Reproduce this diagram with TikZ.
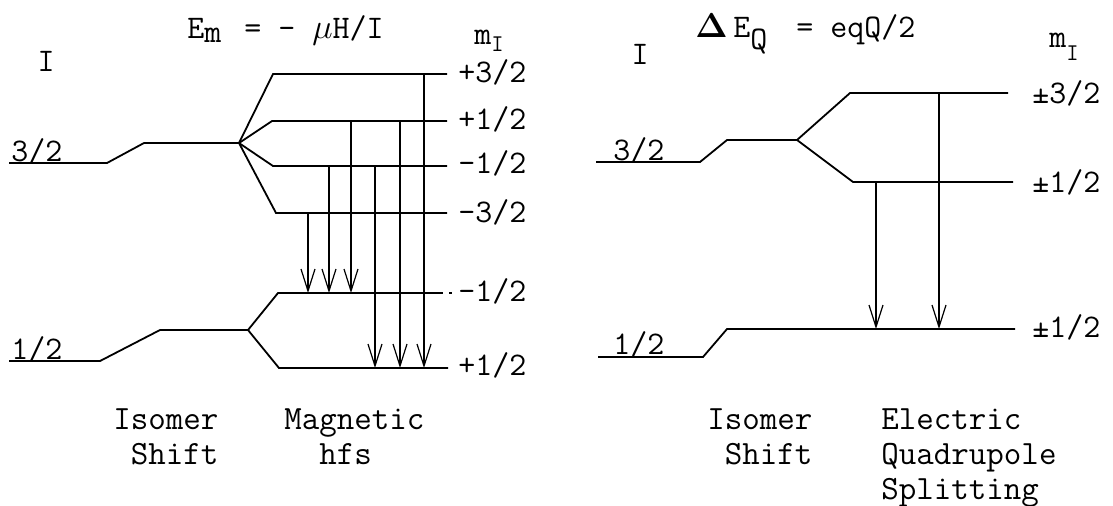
\documentclass[tikz,border=0pt]{standalone}
\usepackage[no-math]{fontspec}
\usetikzlibrary{arrows.meta}

\begin{document}
\begin{tikzpicture}[
  x=0.5pt, y=-0.5pt,
  level/.style={line width=0.9pt},
  trans/.style={line width=0.6pt, -{Straight Barb[length=11pt, width=7pt]}},
  lbl/.style={anchor=west, inner sep=0pt, font=\ttfamily\fontsize{16.5}{18}\selectfont},
  spin/.style={anchor=base west, inner sep=0pt, font=\ttfamily\fontsize{16.5}{18}\selectfont},
  head/.style={anchor=base west, inner sep=0pt, font=\ttfamily\fontsize{16.5}{18}\selectfont},
  caption/.style={anchor=north west, inner sep=0pt, align=left, font=\ttfamily\fontsize{17}{17.5}\selectfont}
]
\useasboundingbox (0,0) rectangle (1113,505);

% ---- magnetic hyperfine splitting ----
\node[head] (mtitle) at (187,38) {E\raisebox{-2pt}{m}\hspace{3pt} = - $\mu$H/I};
\node[lbl, anchor=center] (mspinI) at (46,61) {I};
\node[head] (mmI) at (474,44) {m\raisebox{-3.5pt}{\fontsize{12}{12}\selectfont I}};

\coordinate (mex) at (239,143);
\coordinate (mgr) at (248,330);
\draw[level] (9,163) -- (107,163) -- (144,143) -- (mex);
\draw[level] (9,361) -- (100,361) -- (160,330) -- (mgr);
\node[spin] (mup) at (11,161) {3/2};
\node[spin] (mlo) at (11,359) {1/2};

\coordinate (eP32) at (273,74);
\coordinate (eP12) at (272,121);
\coordinate (eM12) at (273,166);
\coordinate (eM32) at (276,213);
\coordinate (gM12) at (278,293);
\coordinate (gP12) at (279,368);
\foreach \lv in {eP32, eP12, eM12, eM32}
  \draw[level] (mex) -- (\lv) -- (\lv -| 447,0);
\draw[level] (mgr) -- (gM12) -- (gM12 -| 435,0);
\draw[level, dashed, dash pattern=on 4pt off 3pt] (gM12 -| 435,0) -- (gM12 -| 452,0);
\draw[level] (mgr) -- (gP12) -- (gP12 -| 448,0);

\node[lbl] (lP32) at (458,72) {+3/2};
\node[lbl] (lP12) at (458,119) {+1/2};
\node[lbl] (lM12) at (458,163) {-1/2};
\node[lbl] (lM32) at (458,212) {-3/2};
\node[lbl] (lgM12) at (458,291) {-1/2};
\node[lbl] (lgP12) at (458,365) {+1/2};

\foreach \x/\a/\b in {308/eM32/gM12, 329/eM12/gM12, 351/eP12/gM12,
                      375/eM12/gP12, 400/eP12/gP12, 424/eP32/gP12}
  \draw[trans] (\a -| \x,0) -- (\b -| \x,0);

\node[caption] (miso) at (113,408) {Isomer\\\phantom{I}Shift};
\node[caption] (mhfs) at (284,408) {Magnetic\\\phantom{Ma}hfs};

% ---- electric quadrupole splitting ----
\node[head] (qtitle) at (695,37) {$\mathbf{\Delta}$\,E\raisebox{-6pt}{Q}\hspace{6pt} = eqQ/2};
\node[lbl, anchor=center] (qspinI) at (640,54) {I};
\node[head] (qmI) at (1049,47) {m\raisebox{-6.5pt}{\fontsize{12}{12}\selectfont I}};

\coordinate (qex) at (797,140);
\draw[level] (596,162) -- (700,162) -- (727,140) -- (qex);
\draw[level] (598,357) -- (703,357) -- (727,329) -- (1015,329);
\coordinate (gQ) at (727,329);
\node[spin] (qup) at (613,160) {3/2};
\node[spin] (qlo) at (613,354) {1/2};

\coordinate (qP32) at (850,93);
\coordinate (qP12) at (853,182);
\draw[level] (qex) -- (qP32) -- (qP32 -| 1008,0);
\draw[level] (qex) -- (qP12) -- (qP12 -| 1013,0);

\node[lbl] (rP32) at (1032,93) {±3/2};
\node[lbl] (rP12) at (1032,182) {±1/2};
\node[lbl] (rg12) at (1032,327) {±1/2};

\draw[trans] (qP12 -| 876,0) -- (gQ -| 876,0);
\draw[trans] (qP32 -| 939,0) -- (gQ -| 939,0);

\node[caption] (qiso) at (707,408) {Isomer\\\phantom{I}Shift};
\node[caption] (qeqs) at (881,408) {Electric\\Quadrupole\\Splitting};
\end{tikzpicture}
\end{document}
